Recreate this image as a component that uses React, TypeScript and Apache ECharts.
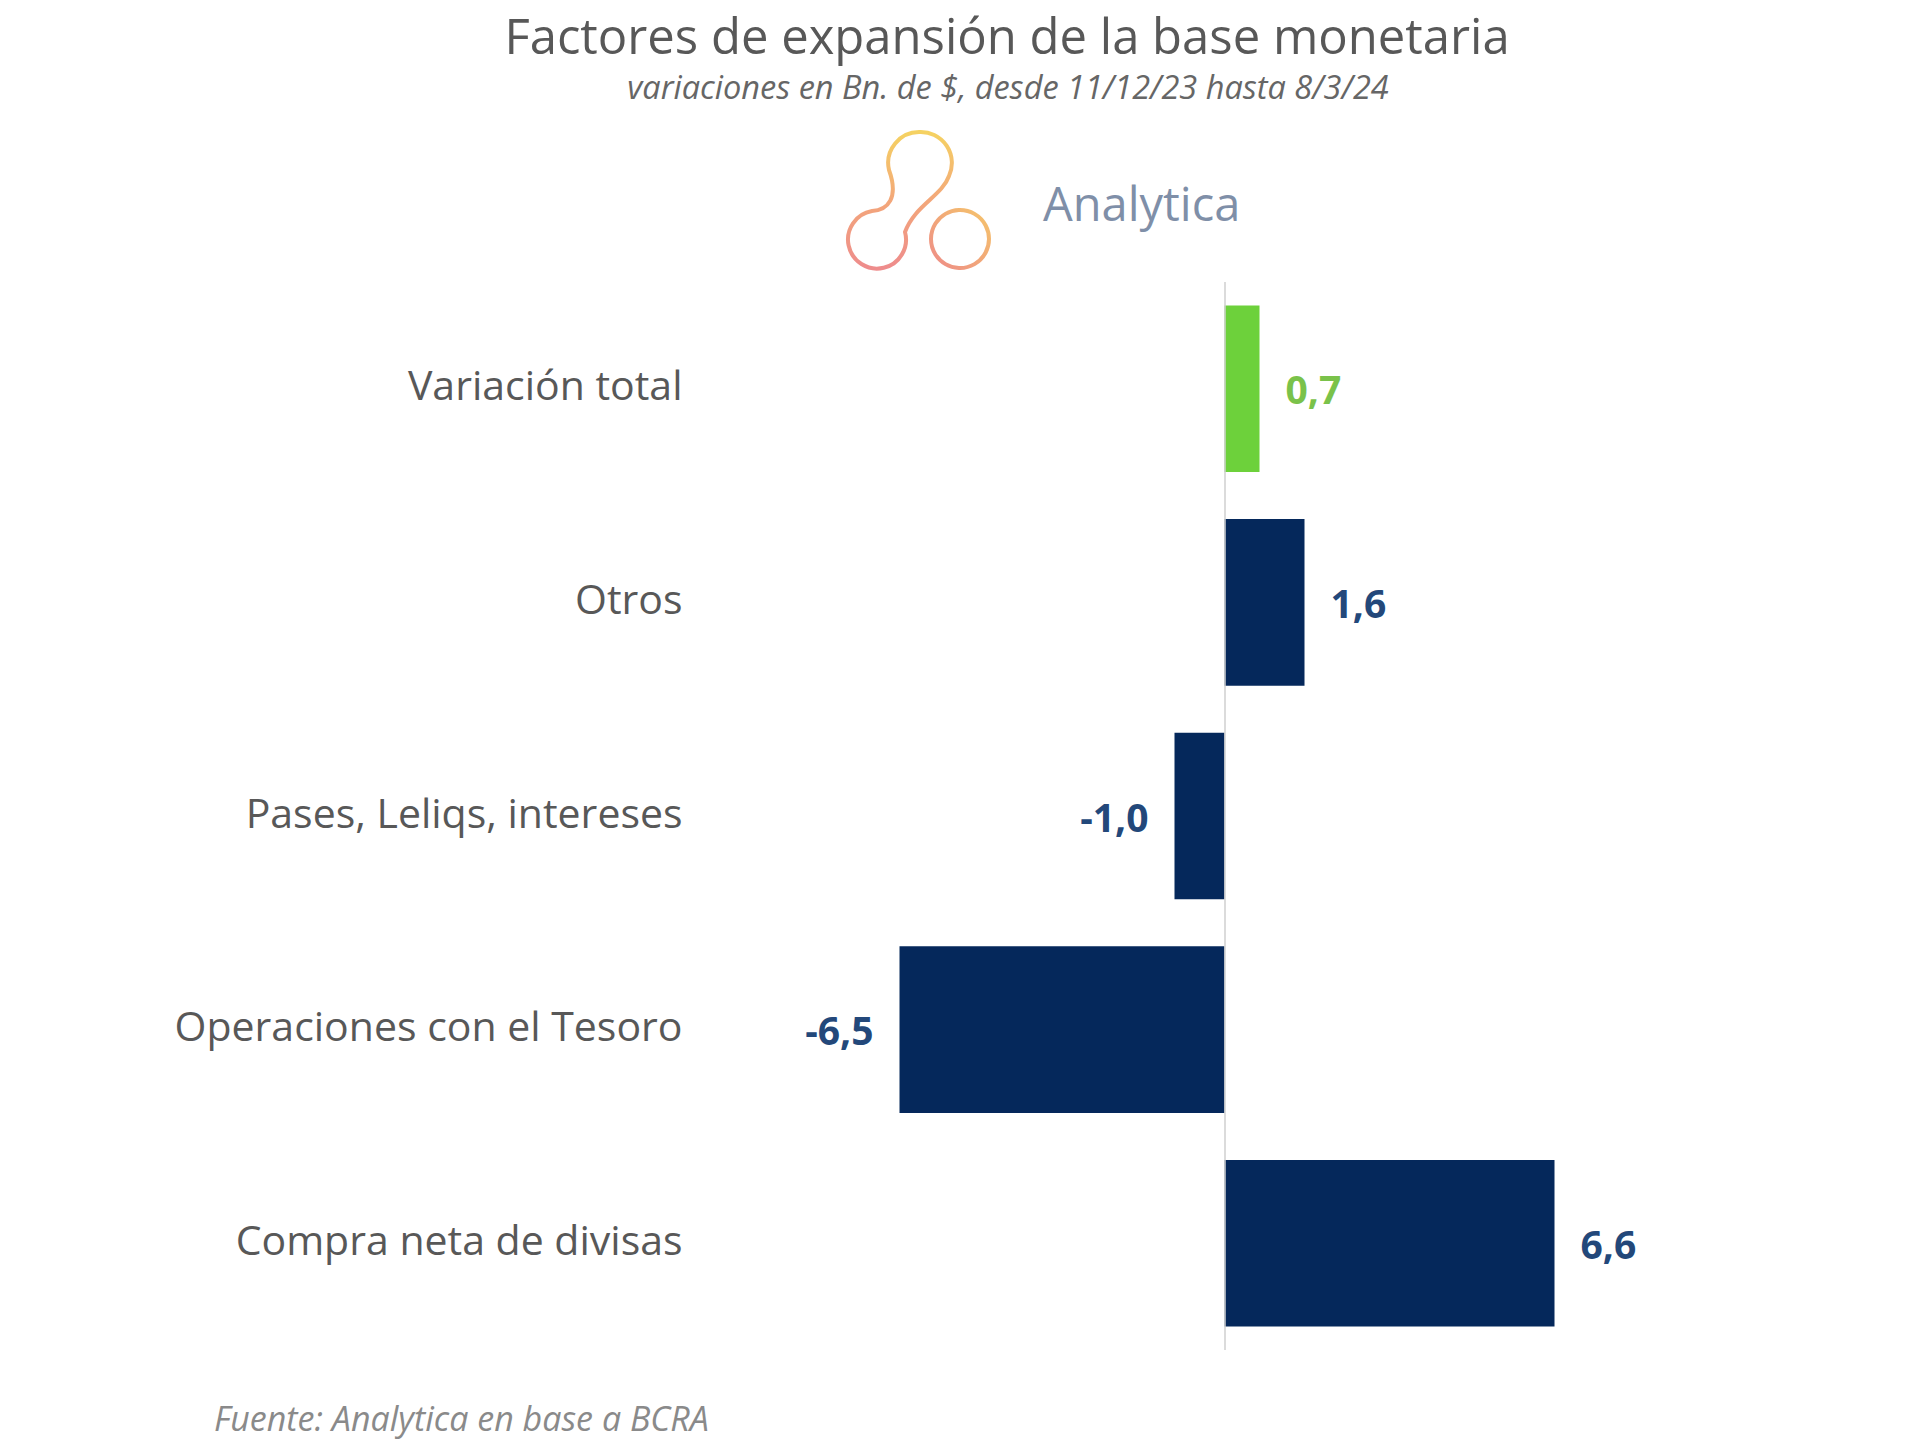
import React, { useEffect, useRef } from "react";
import * as echarts from "echarts";

const categories = [
  "Variación total",
  "Otros",
  "Pases, Leliqs, intereses",
  "Operaciones con el Tesoro",
  "Compra neta de divisas",
];
const values = [0.7, 1.6, -1.0, -6.5, 6.6];
const highlight = [true, false, false, false, false];

const TITLE = "Factores de expansión de la base monetaria";
const SUBTITLE = "variaciones en Bn. de $, desde 11/12/23 hasta 8/3/24";
const BRAND = "Analytica";
const SOURCE = "Fuente: Analytica en base a BCRA";

const NAVY = "#05285b";
const NAVY_LABEL = "#23487a";
const GREEN = "#6dd13b";
const GREEN_LABEL = "#7ac24a";
const FONT = "'Open Sans', 'Noto Sans', sans-serif";

const LOGO_D =
  "M 920 132 A 31 31 0 0 1 949 176 C 942 196 915 205 905 232 A 29 29 0 1 1 872 211 C 888 210 899 198 889 170 A 31 31 0 0 1 920 132 Z";

let registered = false;
function registerLogo() {
  if (registered) return;
  echarts.graphic.registerShape("logo", (echarts.graphic as any).extendPath(LOGO_D, {}));
  registered = true;
}

export default function App() {
  const ref = useRef<HTMLDivElement>(null);
  useEffect(() => {
    if (!ref.current) return;
    registerLogo();
    const chart = echarts.init(ref.current, undefined, { renderer: "svg" });
    const fmt = (v: number) => v.toFixed(1).replace(".", ",");
    const data = values.map((v, i) => ({
      value: v,
      itemStyle: { color: highlight[i] ? GREEN : NAVY },
      label: {
        position: v < 0 ? "left" : "right",
        color: highlight[i] ? GREEN_LABEL : NAVY_LABEL,
      },
    }));
    chart.setOption({
      animation: false,
      backgroundColor: "#ffffff",
      grid: { left: 724.5, right: 195.5, top: 282, bottom: 95, containLabel: false },
      xAxis: {
        type: "value",
        min: -10,
        max: 10,
        show: false,
      },
      yAxis: {
        type: "category",
        data: categories,
        inverse: true,
        axisLine: { show: false, onZero: false },
        axisTick: { show: false },
        axisLabel: {
          margin: 42,
          formatter: (v: string) => `{c|${v}}`,
          rich: {
            c: {
              fontSize: 41,
              color: "#585858",
              fontFamily: FONT,
              lineHeight: 41,
              padding: [0, 0, 9, 0],
            },
          },
        },
      },
      series: [
        {
          type: "bar",
          data,
          barCategoryGap: "22%",
          label: {
            show: true,
            distance: 26,
            fontSize: 39,
            fontWeight: "bold",
            fontFamily: FONT,
            formatter: (p: any) => fmt(p.value),
          },
          markLine: {
            silent: true,
            symbol: "none",
            label: { show: false },
            lineStyle: { color: "#cfcfcf", type: "solid", width: 1.5 },
            data: [{ xAxis: 0 }],
          },
        },
      ],
      graphic: [
        {
          type: "text",
          x: 1007,
          y: 35,
          style: {
            text: TITLE,
            font: `49px ${FONT}`,
            lineHeight: 49,
            fill: "#585858",
            align: "center",
            verticalAlign: "middle",
          },
        },
        {
          type: "text",
          x: 1008,
          y: 86,
          style: {
            text: SUBTITLE,
            font: `italic 32.5px ${FONT}`,
            lineHeight: 34,
            fill: "#666666",
            align: "center",
            verticalAlign: "middle",
          },
        },
        {
          type: "logo",
          x: 0,
          y: 0,
          style: {
            fill: "none",
            lineWidth: 4,
            stroke: new echarts.graphic.LinearGradient(0, 0, 0, 1, [
              { offset: 0, color: "#f5d262" },
              { offset: 0.5, color: "#f3a77a" },
              { offset: 1, color: "#ee8c8c" },
            ]),
          },
        },
        {
          type: "circle",
          shape: { cx: 960, cy: 239, r: 29 },
          style: {
            fill: "none",
            lineWidth: 4,
            stroke: new echarts.graphic.LinearGradient(1, 0, 0, 1, [
              { offset: 0, color: "#f5c46a" },
              { offset: 1, color: "#ee8c88" },
            ]),
          },
        },
        {
          type: "text",
          x: 1043,
          y: 203,
          style: {
            text: BRAND,
            font: `47px ${FONT}`,
            fill: "#7f8fa8",
            align: "left",
            verticalAlign: "middle",
          },
        },
        {
          type: "text",
          x: 214,
          y: 1418,
          style: {
            text: SOURCE,
            font: `italic 34px ${FONT}`,
            fill: "#8a8a8a",
            align: "left",
            verticalAlign: "middle",
          },
        },
      ],
    });
    return () => chart.dispose();
  }, []);
  return (
    <div
      ref={ref}
      style={{ position: "absolute", left: 0, top: 0, width: 1920, height: 1445, background: "#fff" }}
    />
  );
}
